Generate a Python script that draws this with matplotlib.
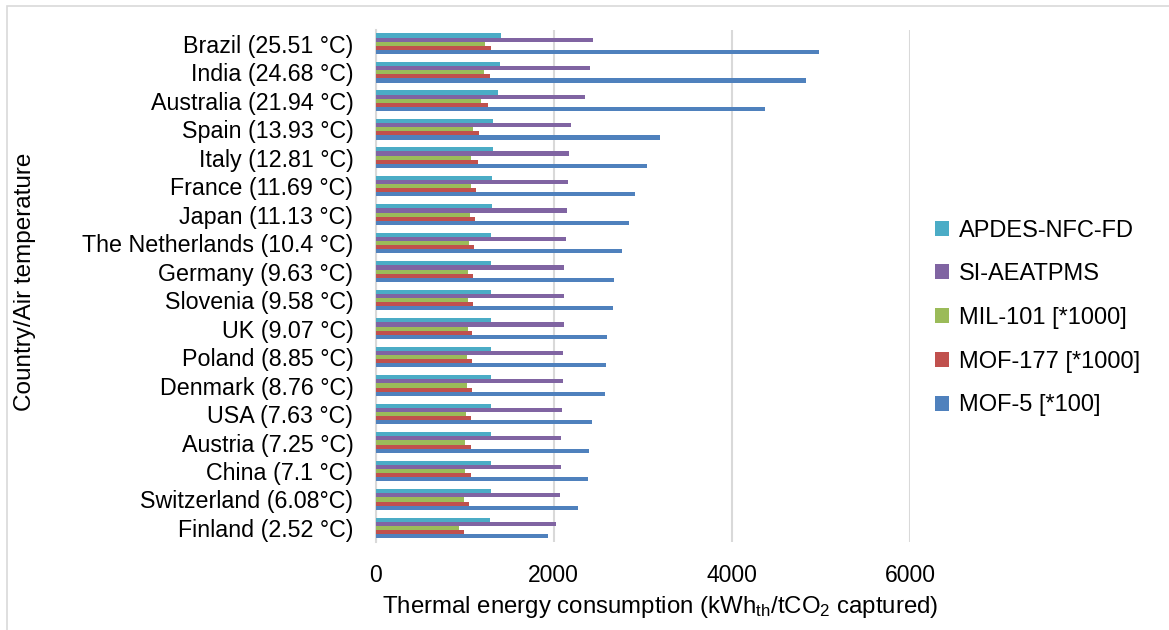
import numpy as np
import matplotlib
matplotlib.use("Agg")
import matplotlib.pyplot as plt
from matplotlib.patches import Rectangle

plt.rcParams['font.family'] = ['Liberation Sans', 'DejaVu Sans']
plt.rcParams['mathtext.fontset'] = 'custom'
plt.rcParams['mathtext.rm'] = 'Liberation Sans'
plt.rcParams['mathtext.it'] = 'Liberation Sans'

# bottom to top, as in the chart
countries = ["Finland (2.52 °C)", "Switzerland (6.08°C)", "China (7.1 °C)", "Austria (7.25 °C)",
             "USA (7.63 °C)", "Denmark (8.76 °C)", "Poland (8.85 °C)", "UK (9.07 °C)",
             "Slovenia (9.58 °C)", "Germany (9.63 °C)", "The Netherlands (10.4 °C)",
             "Japan (11.13 °C)", "France (11.69 °C)", "Italy (12.81 °C)", "Spain (13.93 °C)",
             "Australia (21.94 °C)", "India (24.68 °C)", "Brazil (25.51 °C)"]

apdes = [1280, 1292, 1292, 1292, 1292, 1298, 1298, 1298, 1298, 1298, 1298,
         1310, 1310, 1322, 1322, 1369, 1391, 1402]
si_aeatpms = [2024, 2069, 2081, 2081, 2088, 2103, 2103, 2110, 2110, 2110, 2133,
              2144, 2155, 2167, 2189, 2345, 2405, 2435]
mil101 = [939, 992, 1003, 1003, 1010, 1021, 1021, 1032, 1032, 1032, 1043,
          1055, 1066, 1073, 1095, 1178, 1211, 1223]
mof177 = [992, 1044, 1066, 1066, 1066, 1081, 1081, 1081, 1093, 1093, 1100,
          1111, 1122, 1144, 1156, 1257, 1286, 1297]
mof5 = [1935, 2274, 2379, 2390, 2431, 2572, 2583, 2603, 2662, 2674, 2764,
        2842, 2917, 3052, 3198, 4372, 4836, 4975]

series = [
    ("APDES-NFC-FD", apdes, "#4bacc6"),
    ("SI-AEATPMS", si_aeatpms, "#8064a2"),
    ("MIL-101 [*1000]", mil101, "#9bbb59"),
    ("MOF-177 [*1000]", mof177, "#c0504d"),
    ("MOF-5 [*100]", mof5, "#4f81bd"),
]

W, H = 1169, 630
fig = plt.figure(figsize=(W / 100, H / 100), dpi=100)
ax = fig.add_axes([375.7 / W, 1 - 542.2 / H, (910 - 375.7) / W, (542.2 - 29.5) / H])

y = np.arange(len(countries))
h = 0.145
handles = []
for i, (name, vals, col) in enumerate(series):
    off = (2 - i) * h
    b = ax.barh(y + off, vals, height=h, color=col, edgecolor='none', zorder=3, label=name)
    handles.append(b)

ax.set_xlim(0, 6000)
ax.set_ylim(-0.5, len(countries) - 0.5)
ax.set_xticks([0, 2000, 4000, 6000])
ax.set_yticks(y)
ax.set_yticklabels(countries)
ax.tick_params(axis='y', length=0, pad=16, labelsize=16.75)
ax.tick_params(axis='x', length=0, pad=16, labelsize=16.5)
ax.grid(axis='x', color='#d9d9d9', lw=1.5, zorder=0)
for s in ['top', 'right', 'bottom']:
    ax.spines[s].set_visible(False)
ax.spines['left'].set_color('#d9d9d9')
ax.spines['left'].set_linewidth(1.5)

fig.text(660 / W, 1 - 607 / H, 'Thermal energy consumption (kWh$_{\\mathrm{th}}$/tCO$_2$ captured)',
         ha='center', va='center', fontsize=17.3)
fig.text(25 / W, 1 - 282 / H, 'Country/Air temperature', rotation=90,
         ha='center', va='center', fontsize=17.5)

fig.legend(handles=handles, loc='center left', bbox_to_anchor=(914 / W, 1 - 318 / H),
           frameon=False, fontsize=17, handlelength=0.6, handleheight=0.6,
           handletextpad=0.4, labelspacing=0.92)

fig.patches.append(Rectangle((7 / W, -0.05), 1.2, 1 - 6 / H + 0.05, transform=fig.transFigure,
                             fill=False, edgecolor='#d9d9d9', lw=1.2))

fig.savefig("out.png", dpi=100)
